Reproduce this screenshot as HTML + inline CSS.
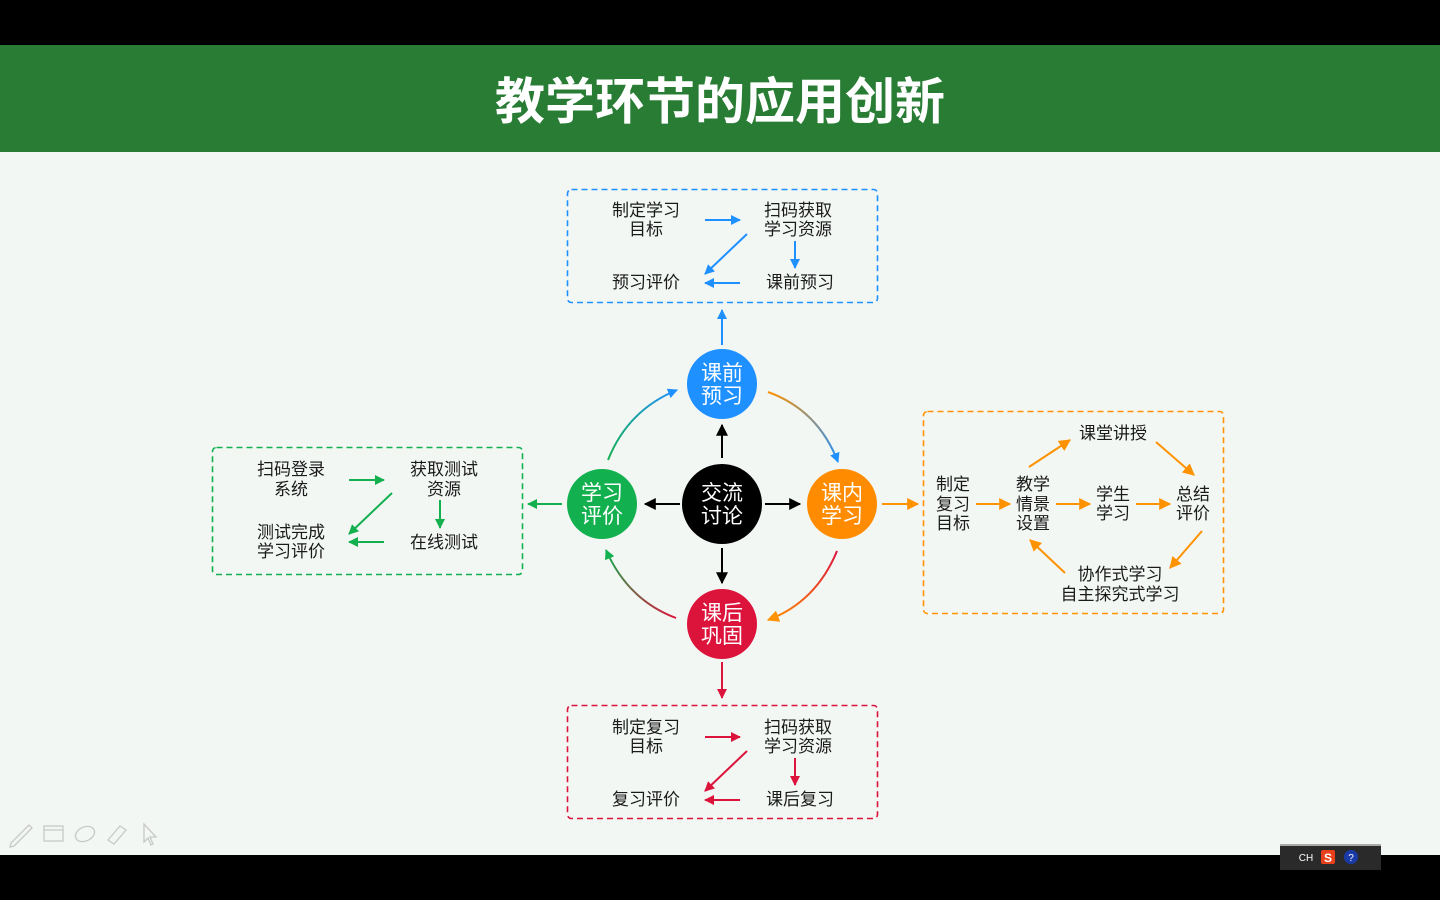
<!DOCTYPE html>
<html><head><meta charset="utf-8"><style>
html,body{margin:0;padding:0;width:1440px;height:900px;overflow:hidden;background:#000}
svg{display:block}
text{font-family:"Liberation Sans","Noto Sans CJK SC",sans-serif}
</style></head><body>
<svg width="1440" height="900" viewBox="0 0 1440 900" xmlns="http://www.w3.org/2000/svg">
<defs>
<marker id="mb" viewBox="0 0 10 10" refX="9" refY="5" markerWidth="10" markerHeight="10" markerUnits="userSpaceOnUse" orient="auto"><path d="M0,0L10,5L0,10z" fill="#1e90ff"/></marker>
<marker id="mo" viewBox="0 0 10 10" refX="9" refY="5" markerWidth="12" markerHeight="12" markerUnits="userSpaceOnUse" orient="auto"><path d="M0,0L10,5L0,10z" fill="#ff9200"/></marker>
<marker id="mg" viewBox="0 0 10 10" refX="9" refY="5" markerWidth="10" markerHeight="10" markerUnits="userSpaceOnUse" orient="auto"><path d="M0,0L10,5L0,10z" fill="#13b04f"/></marker>
<marker id="mr" viewBox="0 0 10 10" refX="9" refY="5" markerWidth="10" markerHeight="10" markerUnits="userSpaceOnUse" orient="auto"><path d="M0,0L10,5L0,10z" fill="#dc143c"/></marker>
<marker id="mk" viewBox="0 0 10 10" refX="9" refY="5" markerWidth="12" markerHeight="12" markerUnits="userSpaceOnUse" orient="auto"><path d="M0,0L10,5L0,10z" fill="#000"/></marker>
<linearGradient id="g1" gradientUnits="userSpaceOnUse" x1="768" y1="392" x2="838" y2="462"><stop offset="0" stop-color="#ff9200"/><stop offset="1" stop-color="#1e90ff"/></linearGradient>
<linearGradient id="g2" gradientUnits="userSpaceOnUse" x1="837" y1="551" x2="768" y2="620"><stop offset="0" stop-color="#dc143c"/><stop offset="1" stop-color="#ff9200"/></linearGradient>
<linearGradient id="g3" gradientUnits="userSpaceOnUse" x1="676" y1="618" x2="606" y2="550"><stop offset="0" stop-color="#dc143c"/><stop offset="1" stop-color="#13b04f"/></linearGradient>
<linearGradient id="g4" gradientUnits="userSpaceOnUse" x1="608" y1="460" x2="677" y2="390"><stop offset="0" stop-color="#13b04f"/><stop offset="1" stop-color="#1e90ff"/></linearGradient>
</defs>
<rect x="0" y="0" width="1440" height="900" fill="#000"/>
<rect x="0" y="45" width="1440" height="810" fill="#f3f7f4"/>
<rect x="0" y="45" width="1440" height="107" fill="#287c34"/>
<text x="720" y="119" text-anchor="middle" font-size="50" font-weight="bold" fill="#fff">教学环节的应用创新</text>

<g font-size="17" fill="#1a1a1a" text-anchor="middle">
<!-- top box -->
<rect x="567.5" y="189.5" width="310" height="113" rx="4" fill="none" stroke="#1e90ff" stroke-width="1.6" stroke-dasharray="6,4"/>
<text x="646" y="216">制定学习</text><text x="646" y="235">目标</text>
<text x="798" y="216">扫码获取</text><text x="798" y="235">学习资源</text>
<text x="646" y="288">预习评价</text><text x="800" y="288">课前预习</text>
<g stroke="#1e90ff" stroke-width="2"><line x1="705" y1="220" x2="740" y2="220" marker-end="url(#mb)"/><line x1="747" y1="234" x2="705" y2="274" marker-end="url(#mb)"/><line x1="795" y1="241" x2="795" y2="268" marker-end="url(#mb)"/><line x1="740" y1="283" x2="705" y2="283" marker-end="url(#mb)"/></g>
<!-- bottom box -->
<rect x="567.5" y="705.5" width="310" height="113" rx="4" fill="none" stroke="#dc143c" stroke-width="1.6" stroke-dasharray="6,4"/>
<text x="646" y="733">制定复习</text><text x="646" y="752">目标</text>
<text x="798" y="733">扫码获取</text><text x="798" y="752">学习资源</text>
<text x="646" y="805">复习评价</text><text x="800" y="805">课后复习</text>
<g stroke="#dc143c" stroke-width="2"><line x1="705" y1="737" x2="740" y2="737" marker-end="url(#mr)"/><line x1="747" y1="751" x2="705" y2="791" marker-end="url(#mr)"/><line x1="795" y1="758" x2="795" y2="785" marker-end="url(#mr)"/><line x1="740" y1="800" x2="705" y2="800" marker-end="url(#mr)"/></g>
<!-- left box -->
<rect x="212.5" y="447.5" width="310" height="127" rx="4" fill="none" stroke="#13b04f" stroke-width="1.6" stroke-dasharray="6,4"/>
<text x="291" y="475">扫码登录</text><text x="291" y="495">系统</text>
<text x="444" y="475">获取测试</text><text x="444" y="495">资源</text>
<text x="291" y="538">测试完成</text><text x="291" y="557">学习评价</text>
<text x="444" y="548">在线测试</text>
<g stroke="#13b04f" stroke-width="2"><line x1="349" y1="480" x2="384" y2="480" marker-end="url(#mg)"/><line x1="392" y1="493" x2="349" y2="534" marker-end="url(#mg)"/><line x1="440" y1="500" x2="440" y2="528" marker-end="url(#mg)"/><line x1="384" y1="542" x2="349" y2="542" marker-end="url(#mg)"/></g>
<!-- right box -->
<rect x="923.5" y="411.5" width="300" height="202" rx="4" fill="none" stroke="#ff9200" stroke-width="1.6" stroke-dasharray="6,4"/>
<text x="953" y="490">制定</text><text x="953" y="510">复习</text><text x="953" y="529">目标</text>
<text x="1033" y="490">教学</text><text x="1033" y="510">情景</text><text x="1033" y="529">设置</text>
<text x="1113" y="500">学生</text><text x="1113" y="519">学习</text>
<text x="1193" y="500">总结</text><text x="1193" y="519">评价</text>
<text x="1113" y="439">课堂讲授</text>
<text x="1120" y="580">协作式学习</text><text x="1120" y="600">自主探究式学习</text>
<g stroke="#ff9200" stroke-width="2"><line x1="976" y1="504" x2="1010" y2="504" marker-end="url(#mo)"/><line x1="1056" y1="504" x2="1090" y2="504" marker-end="url(#mo)"/><line x1="1136" y1="504" x2="1170" y2="504" marker-end="url(#mo)"/><line x1="1029" y1="467" x2="1070" y2="440" marker-end="url(#mo)"/><line x1="1156" y1="442" x2="1194" y2="475" marker-end="url(#mo)"/><line x1="1202" y1="531" x2="1170" y2="568" marker-end="url(#mo)"/><line x1="1065" y1="573" x2="1030" y2="540" marker-end="url(#mo)"/></g>
</g>

<!-- connectors -->
<line x1="722" y1="345" x2="722" y2="310" stroke="#1e90ff" stroke-width="2" marker-end="url(#mb)"/>
<line x1="562" y1="504" x2="528" y2="504" stroke="#13b04f" stroke-width="2" marker-end="url(#mg)"/>
<line x1="882" y1="504" x2="918" y2="504" stroke="#ff9200" stroke-width="2" marker-end="url(#mo)"/>
<line x1="722" y1="662" x2="722" y2="698" stroke="#dc143c" stroke-width="2" marker-end="url(#mr)"/>
<g stroke="#000" stroke-width="2">
<line x1="722" y1="458" x2="722" y2="425" marker-end="url(#mk)"/><line x1="680" y1="504" x2="645" y2="504" marker-end="url(#mk)"/><line x1="765" y1="504" x2="800" y2="504" marker-end="url(#mk)"/><line x1="722" y1="548" x2="722" y2="583" marker-end="url(#mk)"/></g>
<g fill="none" stroke-width="2">
<path d="M768,392 Q818,410 838,462" stroke="url(#g1)" marker-end="url(#mb)"/>
<path d="M837,551 Q816,602 768,620" stroke="url(#g2)" marker-end="url(#mo)"/>
<path d="M676,618 Q628,600 606,550" stroke="url(#g3)" marker-end="url(#mg)"/>
<path d="M608,460 Q628,410 677,390" stroke="url(#g4)" marker-end="url(#mb)"/>
</g>
<!-- circles -->
<g font-size="21" fill="#fff" text-anchor="middle">
<circle cx="722" cy="384" r="35" fill="#1e90ff"/><text x="722" y="380">课前</text><text x="722" y="403">预习</text>
<circle cx="722" cy="504" r="40" fill="#000"/><text x="722" y="500">交流</text><text x="722" y="523">讨论</text>
<circle cx="842" cy="504" r="35" fill="#ff8c00"/><text x="842" y="500">课内</text><text x="842" y="523">学习</text>
<circle cx="602" cy="504" r="35" fill="#13b04f"/><text x="602" y="500">学习</text><text x="602" y="523">评价</text>
<circle cx="722" cy="624" r="35" fill="#dc143c"/><text x="722" y="620">课后</text><text x="722" y="643">巩固</text>
</g>
<!-- toolbar icons -->
<g fill="none" stroke="#c8c8c8" stroke-width="1.3">
<path d="M11,843 L29,825 L32,828 L14,846 L10,847z"/>
<rect x="44" y="826" width="19" height="15"/><line x1="44" y1="830" x2="63" y2="830"/>
<ellipse cx="85" cy="834" rx="10" ry="7" transform="rotate(-25 85 834)"/>
<path d="M108,840 L120,826 L126,830 L114,844z"/>
<path d="M144,824 L144,842 L148,838 L151,845 L153,844 L150,837 L156,837z"/>
</g>
<!-- tray -->
<rect x="1280" y="844" width="101" height="26" fill="#2a2a2a"/><rect x="1280" y="844" width="101" height="2" fill="#aaa"/>
<text x="1306" y="861" font-size="10" fill="#fff" text-anchor="middle" font-family="Liberation Mono,monospace">CH</text>
<rect x="1321" y="850" width="14" height="14" rx="2" fill="#e8401a"/><text x="1328" y="862" font-size="12" font-weight="bold" fill="#fff" text-anchor="middle">S</text>
<circle cx="1351" cy="857" r="7" fill="#1a3aa8"/><text x="1351" y="861" font-size="10" fill="#fff" text-anchor="middle">?</text>
</svg>
</body></html>
